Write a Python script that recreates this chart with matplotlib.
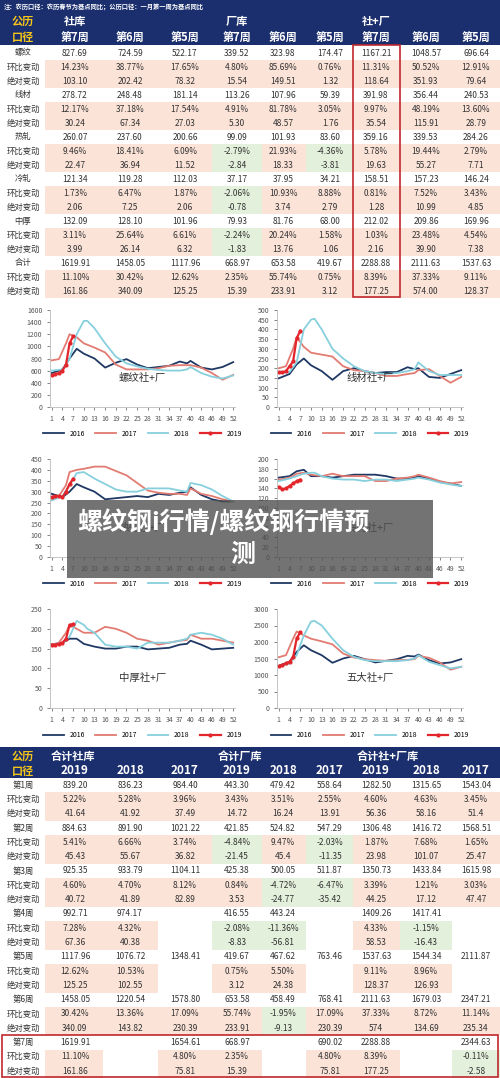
import matplotlib
matplotlib.use("Agg")
import matplotlib.pyplot as plt
from matplotlib.patches import Rectangle

plt.rcParams['font.family'] = ['Noto Sans CJK SC', 'DejaVu Sans']

W, H = 500, 1078
NAVY = '#1b2f6e'
PINK = '#fbe3d8'
GREEN = '#e3f0db'
BOXRED = '#c0282d'

# ---------------- top table data ----------------
top_groups = ['社库', '厂库', '社+厂']
top_weeks = ['第7周', '第6周', '第5周'] * 3
top_labels = ['螺纹', '环比变动', '绝对变动', '线材', '环比变动', '绝对变动',
              '热轧', '环比变动', '绝对变动', '冷轧', '环比变动', '绝对变动',
              '中厚', '环比变动', '绝对变动', '合计', '环比变动', '绝对变动']
top_rows = [
    ['827.69', '724.59', '522.17', '339.52', '323.98', '174.47', '1167.21', '1048.57', '696.64'],
    ['14.23%', '38.77%', '17.65%', '4.80%', '85.69%', '0.76%', '11.31%', '50.52%', '12.91%'],
    ['103.10', '202.42', '78.32', '15.54', '149.51', '1.32', '118.64', '351.93', '79.64'],
    ['278.72', '248.48', '181.14', '113.26', '107.96', '59.39', '391.98', '356.44', '240.53'],
    ['12.17%', '37.18%', '17.54%', '4.91%', '81.78%', '3.05%', '9.97%', '48.19%', '13.60%'],
    ['30.24', '67.34', '27.03', '5.30', '48.57', '1.76', '35.54', '115.91', '28.79'],
    ['260.07', '237.60', '200.66', '99.09', '101.93', '83.60', '359.16', '339.53', '284.26'],
    ['9.46%', '18.41%', '6.09%', '-2.79%', '21.93%', '-4.36%', '5.78%', '19.44%', '2.79%'],
    ['22.47', '36.94', '11.52', '-2.84', '18.33', '-3.81', '19.63', '55.27', '7.71'],
    ['121.34', '119.28', '112.03', '37.17', '37.95', '34.21', '158.51', '157.23', '146.24'],
    ['1.73%', '6.47%', '1.87%', '-2.06%', '10.93%', '8.88%', '0.81%', '7.52%', '3.43%'],
    ['2.06', '7.25', '2.06', '-0.78', '3.74', '2.79', '1.28', '10.99', '4.85'],
    ['132.09', '128.10', '101.96', '79.93', '81.76', '68.00', '212.02', '209.86', '169.96'],
    ['3.11%', '25.64%', '6.61%', '-2.24%', '20.24%', '1.58%', '1.03%', '23.48%', '4.54%'],
    ['3.99', '26.14', '6.32', '-1.83', '13.76', '1.06', '2.16', '39.90', '7.38'],
    ['1619.91', '1458.05', '1117.96', '668.97', '653.58', '419.67', '2288.88', '2111.63', '1537.63'],
    ['11.10%', '30.42%', '12.62%', '2.35%', '55.74%', '0.75%', '8.39%', '37.33%', '9.11%'],
    ['161.86', '340.09', '125.25', '15.39', '233.91', '3.12', '177.25', '574.00', '128.37'],
]

# ---------------- bottom table data ----------------
bot_groups = ['合计社库', '合计厂库', '合计社+厂库']
bot_years = ['2019', '2018', '2017'] * 3
bot_labels = []
for w in range(1, 8):
    bot_labels += ['第%d周' % w, '环比变动', '绝对变动']
bot_rows = [
    ['839.20', '836.23', '984.40', '443.30', '479.42', '558.64', '1282.50', '1315.65', '1543.04'],
    ['5.22%', '5.28%', '3.96%', '3.43%', '3.51%', '2.55%', '4.60%', '4.63%', '3.45%'],
    ['41.64', '41.92', '37.49', '14.72', '16.24', '13.91', '56.36', '58.16', '51.4'],
    ['884.63', '891.90', '1021.22', '421.85', '524.82', '547.29', '1306.48', '1416.72', '1568.51'],
    ['5.41%', '6.66%', '3.74%', '-4.84%', '9.47%', '-2.03%', '1.87%', '7.68%', '1.65%'],
    ['45.43', '55.67', '36.82', '-21.45', '45.4', '-11.35', '23.98', '101.07', '25.47'],
    ['925.35', '933.79', '1104.11', '425.38', '500.05', '511.87', '1350.73', '1433.84', '1615.98'],
    ['4.60%', '4.70%', '8.12%', '0.84%', '-4.72%', '-6.47%', '3.39%', '1.21%', '3.03%'],
    ['40.72', '41.89', '82.89', '3.53', '-24.77', '-35.42', '44.25', '17.12', '47.47'],
    ['992.71', '974.17', '', '416.55', '443.24', '', '1409.26', '1417.41', ''],
    ['7.28%', '4.32%', '', '-2.08%', '-11.36%', '', '4.33%', '-1.15%', ''],
    ['67.36', '40.38', '', '-8.83', '-56.81', '', '58.53', '-16.43', ''],
    ['1117.96', '1076.72', '1348.41', '419.67', '467.62', '763.46', '1537.63', '1544.34', '2111.87'],
    ['12.62%', '10.53%', '', '0.75%', '5.50%', '', '9.11%', '8.96%', ''],
    ['125.25', '102.55', '', '3.12', '24.38', '', '128.37', '126.93', ''],
    ['1458.05', '1220.54', '1578.80', '653.58', '458.49', '768.41', '2111.63', '1679.03', '2347.21'],
    ['30.42%', '13.36%', '17.09%', '55.74%', '-1.95%', '17.09%', '37.33%', '8.72%', '11.14%'],
    ['340.09', '143.82', '230.39', '233.91', '-9.13', '230.39', '574', '134.69', '235.34'],
    ['1619.91', '', '1654.61', '668.97', '', '690.02', '2288.88', '', '2344.63'],
    ['11.10%', '', '4.80%', '2.35%', '', '4.80%', '8.39%', '', '-0.11%'],
    ['161.86', '', '75.81', '15.39', '', '75.81', '177.25', '', '-2.58'],
]

# ---------------- chart data (week, value keypoints) ----------------
weeks_16 = [1, 4, 6, 8, 10, 13, 16, 19, 22, 25, 28, 31, 34, 37, 39, 40, 43, 46, 49, 52]
weeks_17 = [1, 3, 5, 6, 8, 10, 13, 16, 19, 22, 25, 28, 31, 34, 37, 39, 40, 43, 46, 49, 52]
weeks_18 = [1, 4, 6, 8, 10, 11, 13, 16, 19, 22, 25, 28, 31, 34, 37, 39, 40, 43, 46, 49, 52]
weeks_19 = [1, 2, 3, 4, 5, 6, 7]

rebar = {
    '2016': [560, 620, 800, 960, 880, 800, 650, 730, 790, 700, 640, 660, 680, 750, 720, 760, 650, 620, 660, 740],
    '2017': [770, 790, 1050, 1200, 1150, 1050, 980, 900, 700, 620, 620, 620, 640, 680, 690, 690, 690, 650, 560, 450, 530],
    '2018': [600, 620, 800, 1200, 1420, 1420, 1300, 1050, 830, 720, 670, 630, 610, 600, 600, 620, 660, 560, 500, 470, 520],
    '2019': [520, 540, 560, 600, 700, 1050, 1167],
}
wire = {
    '2016': [148, 170, 220, 250, 215, 185, 140, 185, 200, 185, 175, 180, 180, 205, 195, 200, 155, 150, 170, 190],
    '2017': [200, 210, 300, 360, 310, 280, 270, 260, 210, 190, 185, 175, 160, 160, 170, 175, 190, 195, 160, 125, 155],
    '2018': [175, 180, 230, 400, 450, 455, 400, 300, 250, 210, 185, 175, 170, 175, 185, 195, 230, 185, 165, 165, 165],
    '2019': [178, 178, 185, 210, 235, 355, 392],
}
hot = {
    '2016': [290, 275, 300, 335, 320, 300, 265, 270, 275, 280, 275, 290, 285, 295, 300, 320, 285, 265, 255, 255],
    '2017': [275, 280, 330, 390, 400, 405, 415, 415, 395, 375, 340, 305, 295, 290, 290, 285, 315, 290, 280, 265, 255],
    '2018': [260, 280, 330, 385, 390, 380, 360, 335, 310, 300, 300, 315, 315, 315, 305, 300, 340, 330, 310, 280, 255],
    '2019': [275, 280, 280, 275, 300, 335, 359],
}
cold = {
    '2016': [162, 165, 175, 178, 165, 165, 162, 165, 168, 168, 168, 165, 160, 160, 162, 165, 160, 153, 150, 145],
    '2017': [158, 160, 165, 170, 172, 168, 165, 170, 165, 165, 165, 155, 155, 160, 162, 165, 168, 162, 155, 150, 153],
    '2018': [155, 160, 165, 170, 172, 172, 165, 160, 158, 158, 155, 158, 158, 155, 158, 160, 162, 158, 152, 148, 145],
    '2019': [143, 138, 140, 145, 150, 155, 158],
}
plate = {
    '2016': [160, 165, 175, 175, 162, 155, 150, 150, 155, 155, 148, 150, 152, 160, 162, 170, 160, 148, 150, 152],
    '2017': [160, 165, 190, 210, 200, 190, 190, 205, 200, 190, 175, 170, 160, 165, 170, 172, 185, 175, 175, 170, 165],
    '2018': [160, 165, 180, 220, 210, 200, 190, 160, 155, 155, 150, 165, 165, 165, 170, 175, 185, 190, 185, 175, 160],
    '2019': [160, 160, 162, 165, 175, 210, 212],
}
five = {
    '2016': [1280, 1400, 1700, 1900, 1750, 1600, 1370, 1500, 1580, 1480, 1380, 1430, 1480, 1580, 1560, 1620, 1450, 1350, 1380, 1480],
    '2017': [1540, 1600, 2100, 2320, 2200, 2100, 2020, 1930, 1650, 1530, 1480, 1450, 1430, 1450, 1460, 1480, 1580, 1520, 1380, 1160, 1250],
    '2018': [1250, 1350, 1600, 2200, 2620, 2640, 2500, 2100, 1750, 1550, 1450, 1420, 1420, 1420, 1450, 1500, 1600, 1400, 1300, 1200, 1250],
    '2019': [1260, 1300, 1350, 1400, 1540, 2110, 2289],
}

charts = [
    ('螺纹社+厂', rebar, 1600, 200, (50, 235, 310, 407)),
    ('线材社+厂', wire, 500, 50, (277, 463, 310, 407)),
    ('热轧社+厂', hot, 450, 50, (50, 235, 459, 557)),
    ('冷轧社+厂', cold, 200, 20, (277, 463, 459, 557)),
    ('中厚社+厂', plate, 250, 50, (50, 235, 609, 708)),
    ('五大社+厂', five, 3000, 500, (277, 463, 609, 708)),
]
line_colors = {'2016': '#1f3864', '2017': '#e27b72', '2018': '#86d0dd', '2019': '#e3262b'}
line_weeks = {'2016': weeks_16, '2017': weeks_17, '2018': weeks_18, '2019': weeks_19}

fig = plt.figure(figsize=(5, 10.78), dpi=100)
tab = fig.add_axes([0, 0, 1, 1])
tab.set_xlim(0, W)
tab.set_ylim(H, 0)
tab.axis('off')

col_x = [75, 130, 185, 237, 283, 330, 376, 426, 476]
col_edges = [45, 103, 158, 212, 262, 306, 353, 400, 452, 500]


def draw_table(y0, rh, labels, rows, pink_blank):
    for i, (lab, row) in enumerate(zip(labels, rows)):
        yc = y0 + (i + 0.5) * rh
        is_sub = (i % 3) != 0
        tab.text(23, yc, lab, ha='center', va='center', fontsize=6, color='#333333')
        for j, v in enumerate(row):
            if is_sub and (v or pink_blank):
                c = GREEN if v.startswith('-') else PINK
                tab.add_patch(Rectangle((col_edges[j], y0 + i * rh), col_edges[j + 1] - col_edges[j],
                                        rh, color=c, lw=0))
            tab.text(col_x[j], yc, v, ha='center', va='center', fontsize=6, color='#333333')


# top table
tab.add_patch(Rectangle((0, 0), W, 45, color=NAVY, lw=0))
tab.text(4, 6, '注：农历口径：农历春节为基点同比；公历口径：一月第一周为基点同比',
         ha='left', va='center', fontsize=4.5, color='white', fontweight='bold')
tab.text(23, 21, '公历', ha='center', va='center', fontsize=8, color='#f5c518', fontweight='bold')
tab.text(23, 37, '口径', ha='center', va='center', fontsize=8, color='#f5c518', fontweight='bold')
for g, x in zip(top_groups, [75, 237, 376]):
    tab.text(x, 21, g, ha='center', va='center', fontsize=8, color='white', fontweight='bold')
for wk, x in zip(top_weeks, col_x):
    tab.text(x, 37, wk, ha='center', va='center', fontsize=8, color='white', fontweight='bold')
draw_table(46, 14, top_labels, top_rows, True)
tab.add_patch(Rectangle((353, 45), 47, 252, fill=False, ec=BOXRED, lw=1.2))

# bottom table
tab.add_patch(Rectangle((0, 747), W, 31, color=NAVY, lw=0))
tab.text(23, 756, '公历', ha='center', va='center', fontsize=8, color='#f5c518', fontweight='bold')
tab.text(23, 771, '口径', ha='center', va='center', fontsize=8, color='#f5c518', fontweight='bold')
for g, x in zip(bot_groups, [73, 240, 388]):
    tab.text(x, 756, g, ha='center', va='center', fontsize=8, color='white', fontweight='bold')
for yr, x in zip(bot_years, col_x):
    tab.text(x, 771, yr, ha='center', va='center', fontsize=8.5, color='white', fontweight='bold')
draw_table(778, 14.3, bot_labels, bot_rows, False)
tab.add_patch(Rectangle((2, 1035), 496, 42, fill=False, ec=BOXRED, lw=1.2))

# line charts
for title, data, ymax, ystep, (x0, x1, y0, y1) in charts:
    ax = fig.add_axes([x0 / W, 1 - y1 / H, (x1 - x0) / W, (y1 - y0) / H])
    for yr in ['2016', '2017', '2018', '2019']:
        if yr == '2019':
            ax.plot(line_weeks[yr], data[yr], color=line_colors[yr], lw=1.6, marker='o', ms=2, label=yr)
        else:
            ax.plot(line_weeks[yr], data[yr], color=line_colors[yr], lw=1.3, label=yr)
    ax.set_xlim(0.5, 52.5)
    ax.set_ylim(0, ymax)
    ax.set_yticks(range(0, ymax + 1, ystep))
    ax.set_xticks(range(1, 53, 3))
    ax.tick_params(labelsize=5, colors='#555555', length=2, width=0.5)
    for s in ['top', 'right']:
        ax.spines[s].set_visible(False)
    for s in ['left', 'bottom']:
        ax.spines[s].set_color('#bbbbbb')
        ax.spines[s].set_linewidth(0.6)
    ax.text(0.5, 0.3, title, transform=ax.transAxes, ha='center', va='center', fontsize=7.5, color='#333333')
    ax.legend(loc='upper center', bbox_to_anchor=(0.5, -0.17), ncol=4, frameon=False,
              fontsize=5, handlelength=3, columnspacing=1.5)

# overlay title
ov = fig.add_axes([0, 0, 1, 1])
ov.set_xlim(0, W)
ov.set_ylim(H, 0)
ov.axis('off')
ov.patch.set_alpha(0)
ov.add_patch(Rectangle((67, 500), 366, 78, color='#505050', alpha=0.8, lw=0))
ov.text(77, 522, '螺纹钢i行情/螺纹钢行情预', ha='left', va='center', fontsize=18,
        color='white', fontweight='bold')
ov.text(243, 555, '测', ha='center', va='center', fontsize=18, color='white', fontweight='bold')

fig.savefig('out.png', dpi=100, facecolor='white')
